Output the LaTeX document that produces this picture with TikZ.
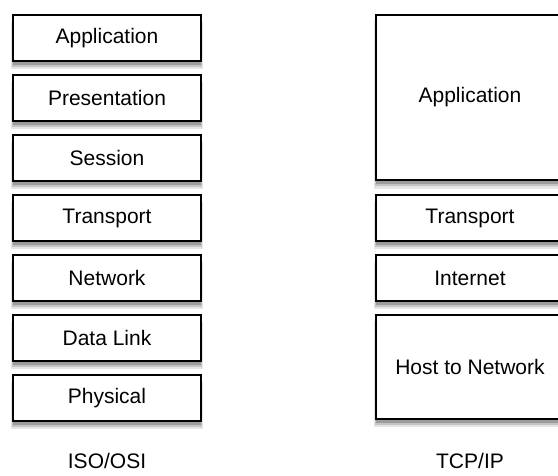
\documentclass[tikz,border=0pt]{standalone}
\usepackage{fontspec}
\setmainfont{Liberation Sans}
\usetikzlibrary{shadows}
\definecolor{shadowgray}{RGB}{40,40,40}

\tikzset{
    softshadow/.style={
        drop shadow={shadow xshift=0pt, shadow yshift=-3.5pt, shadow scale=1.02, opacity=0.12, fill=shadowgray},
        drop shadow={shadow xshift=0pt, shadow yshift=-2.8pt, shadow scale=1.01, opacity=0.18, fill=shadowgray},
        drop shadow={shadow xshift=0pt, shadow yshift=-2pt, opacity=0.25, fill=shadowgray}},
    layer/.style={draw=black, line width=0.8pt, fill=white, minimum width=94pt,
        minimum height=23pt, inner sep=0pt,
        font=\fontsize{10.5}{12}\selectfont, softshadow},
    caption/.style={font=\fontsize{10.5}{12}\selectfont}
}

\begin{document}
\begin{tikzpicture}[x=0.5pt, y=-0.5pt]
    \useasboundingbox (0,0) rectangle (558,476);
    \clip (0,0) rectangle (558,476);

    % ISO/OSI stack
    \node[layer] (app)  at (107, 38)  {Application};
    \node[layer] (pres) at (107, 98)  {Presentation};
    \node[layer] (sess) at (107, 158) {Session};
    \node[layer] (trans) at (107, 218) {Transport};
    \node[layer] (net)  at (107, 278) {Network};
    \node[layer] (link) at (107, 338) {Data Link};
    \node[layer] (phys) at (107, 398) {Physical};

    % TCP/IP stack
    \node[layer, minimum height=82.5pt] (tapp) at (470, 97.5) {Application};
    \node[layer] (ttrans) at (470, 218) {Transport};
    \node[layer] (tinet)  at (470, 278) {Internet};
    \node[layer, minimum height=52pt] (thost) at (470, 367) {Host to Network};

    % Captions
    \node[caption] (osi) at (107, 461) {ISO/OSI};
    \node[caption] (tcp) at (470, 461) {TCP/IP};
\end{tikzpicture}
\end{document}
